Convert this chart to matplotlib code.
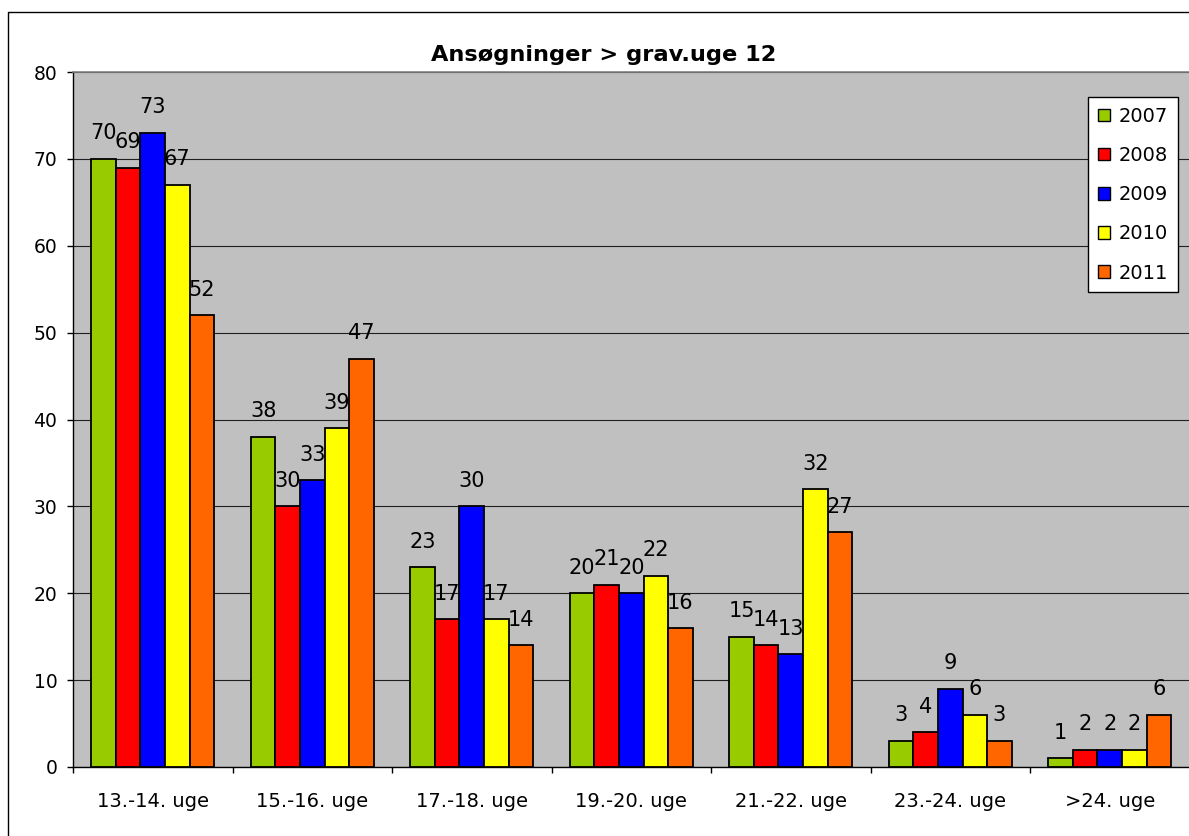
import matplotlib
matplotlib.use("Agg")
import matplotlib.pyplot as plt
from matplotlib.patches import Patch
from matplotlib.lines import Line2D
import numpy as np

categories = ["13.-14. uge", "15.-16. uge", "17.-18. uge", "19.-20. uge",
              "21.-22. uge", "23.-24. uge", ">24. uge"]
years = ["2007", "2008", "2009", "2010", "2011"]
v2007 = [70, 38, 23, 20, 15, 3, 1]
v2008 = [69, 30, 17, 21, 14, 4, 2]
v2009 = [73, 33, 30, 20, 13, 9, 2]
v2010 = [67, 39, 17, 22, 32, 6, 2]
v2011 = [52, 47, 14, 16, 27, 3, 6]
series = [v2007, v2008, v2009, v2010, v2011]
colors = ["#99CC00", "#FF0000", "#0000FF", "#FFFF00", "#FF6600"]
title = "Ansøgninger > grav.uge 12"

W, H = 1189, 836
fig = plt.figure(figsize=(W / 100, H / 100), dpi=100)
plt.rcParams['font.family'] = ['DejaVu Sans']

left_px, right_px, top_px, bottom_px = 73, 1189.5, 72, 767
ax = fig.add_axes([left_px / W, 1 - bottom_px / H,
                   (right_px - left_px) / W, (bottom_px - top_px) / H])
ax.set_facecolor("#C0C0C0")

n = len(series)
bw = 1 / 6.5
x = np.arange(len(categories)) + 0.5
for j, (vals, col) in enumerate(zip(series, colors)):
    xs = x + (j - (n - 1) / 2) * bw
    ax.bar(xs, vals, width=bw, color=col, edgecolor="black",
           linewidth=1.3, zorder=3)
    for xi, v in zip(xs, vals):
        ax.annotate(str(v), (xi, v), xytext=(0, 14), textcoords="offset points",
                    ha="center", va="baseline", fontsize=15, zorder=4)

ax.set_xlim(0, len(categories))
ax.set_ylim(0, 80)
ax.set_yticks(np.arange(0, 81, 10))
ax.yaxis.grid(True, color="#202020", linewidth=0.8, zorder=1)
ax.set_axisbelow(True)
ax.tick_params(axis="y", direction="out", length=4.3, width=1, pad=7,
               labelsize=13.5, colors="black")

ax.set_xticks(x)
ax.set_xticklabels(categories)
ax.set_xticks(np.arange(0, len(categories) + 1), minor=True)
ax.tick_params(axis="x", which="major", length=0, pad=18, labelsize=14)
ax.tick_params(axis="x", which="minor", direction="out", length=4.3, width=1)

for s in ["left", "bottom"]:
    ax.spines[s].set_color("black")
    ax.spines[s].set_linewidth(1)
ax.spines["top"].set_color("#808080")
ax.spines["top"].set_linewidth(1.2)
ax.spines["right"].set_visible(False)

fig.text(604 / W, 1 - 61 / H, title, ha="center", va="baseline",
         fontsize=16.2, fontweight="bold")

handles = [Patch(facecolor=c, edgecolor="black", linewidth=1) for c in colors]
leg = fig.legend(handles, years, loc="upper right",
                 bbox_to_anchor=(1178 / W, 1 - 97 / H),
                 bbox_transform=fig.transFigure,
                 fontsize=14, handlelength=0.62, handleheight=0.62,
                 handletextpad=0.45, labelspacing=1.04, borderpad=0.5,
                 borderaxespad=0, fancybox=False, frameon=True)
leg.get_frame().set_edgecolor("black")
leg.get_frame().set_linewidth(1)
leg.get_frame().set_facecolor("white")
leg.get_frame().set_alpha(1)

# figure border
fig.add_artist(Line2D([8 / W, 8 / W, 1.01], [-0.01, 1 - 12 / H, 1 - 12 / H],
                      transform=fig.transFigure, color="black", linewidth=1))

fig.savefig("out.png", dpi=100)
